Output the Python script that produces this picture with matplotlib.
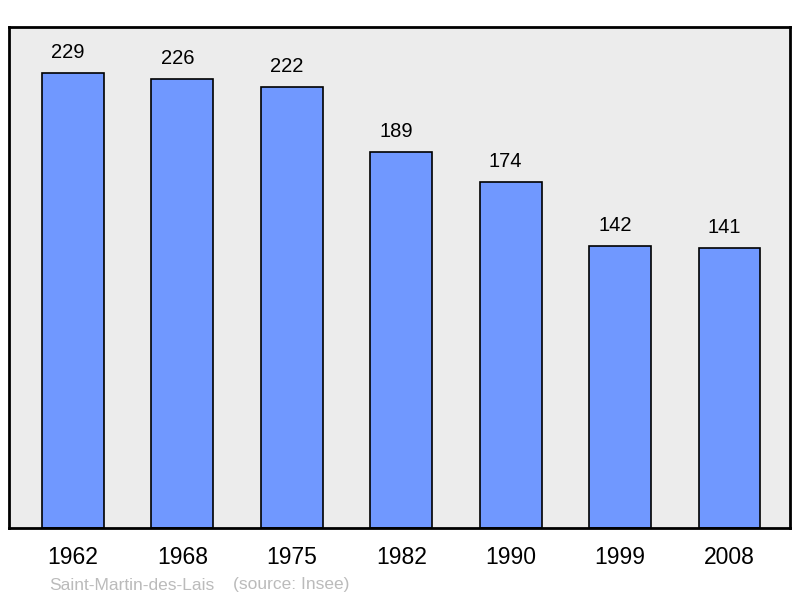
import matplotlib
matplotlib.use("Agg")
import matplotlib.pyplot as plt

years = ["1962", "1968", "1975", "1982", "1990", "1999", "2008"]
population = [229, 226, 222, 189, 174, 142, 141]
commune = "Saint-Martin-des-Lais"
source = "(source: Insee)"

plt.rcParams['font.family'] = ['Liberation Sans', 'DejaVu Sans']

fig = plt.figure(figsize=(8, 5.98), dpi=100)
ax = fig.add_axes([9/800, 70/598, 781/800, 501/598])
ax.set_facecolor('#ececec')

x = list(range(len(years)))
ax.bar(x, population, width=0.566, color='#7098ff', edgecolor='black', linewidth=1.2, zorder=2)
for xi, v in zip(x, population):
    ax.annotate(str(v), (xi, v), xytext=(-5, 11), textcoords='offset pixels',
                ha='center', va='bottom', fontsize=14.5)

ax.set_xlim(-0.584, 6.553)
ax.set_ylim(0, 252)
ax.set_yticks([])
ax.set_xticks(x)
ax.set_xticklabels(years, fontsize=16.5)
ax.tick_params(axis='x', length=0, pad=13)
for s in ax.spines.values():
    s.set_linewidth(2)
    s.set_color('black')

fig.text(49/800, 1 - 585/598, commune, fontsize=12.5, color='#bbbbbb', va='center', ha='left')
fig.text(233/800, 1 - 585/598, source, fontsize=12.5, color='#bbbbbb', va='center', ha='left')

fig.savefig("out.png", dpi=100)
